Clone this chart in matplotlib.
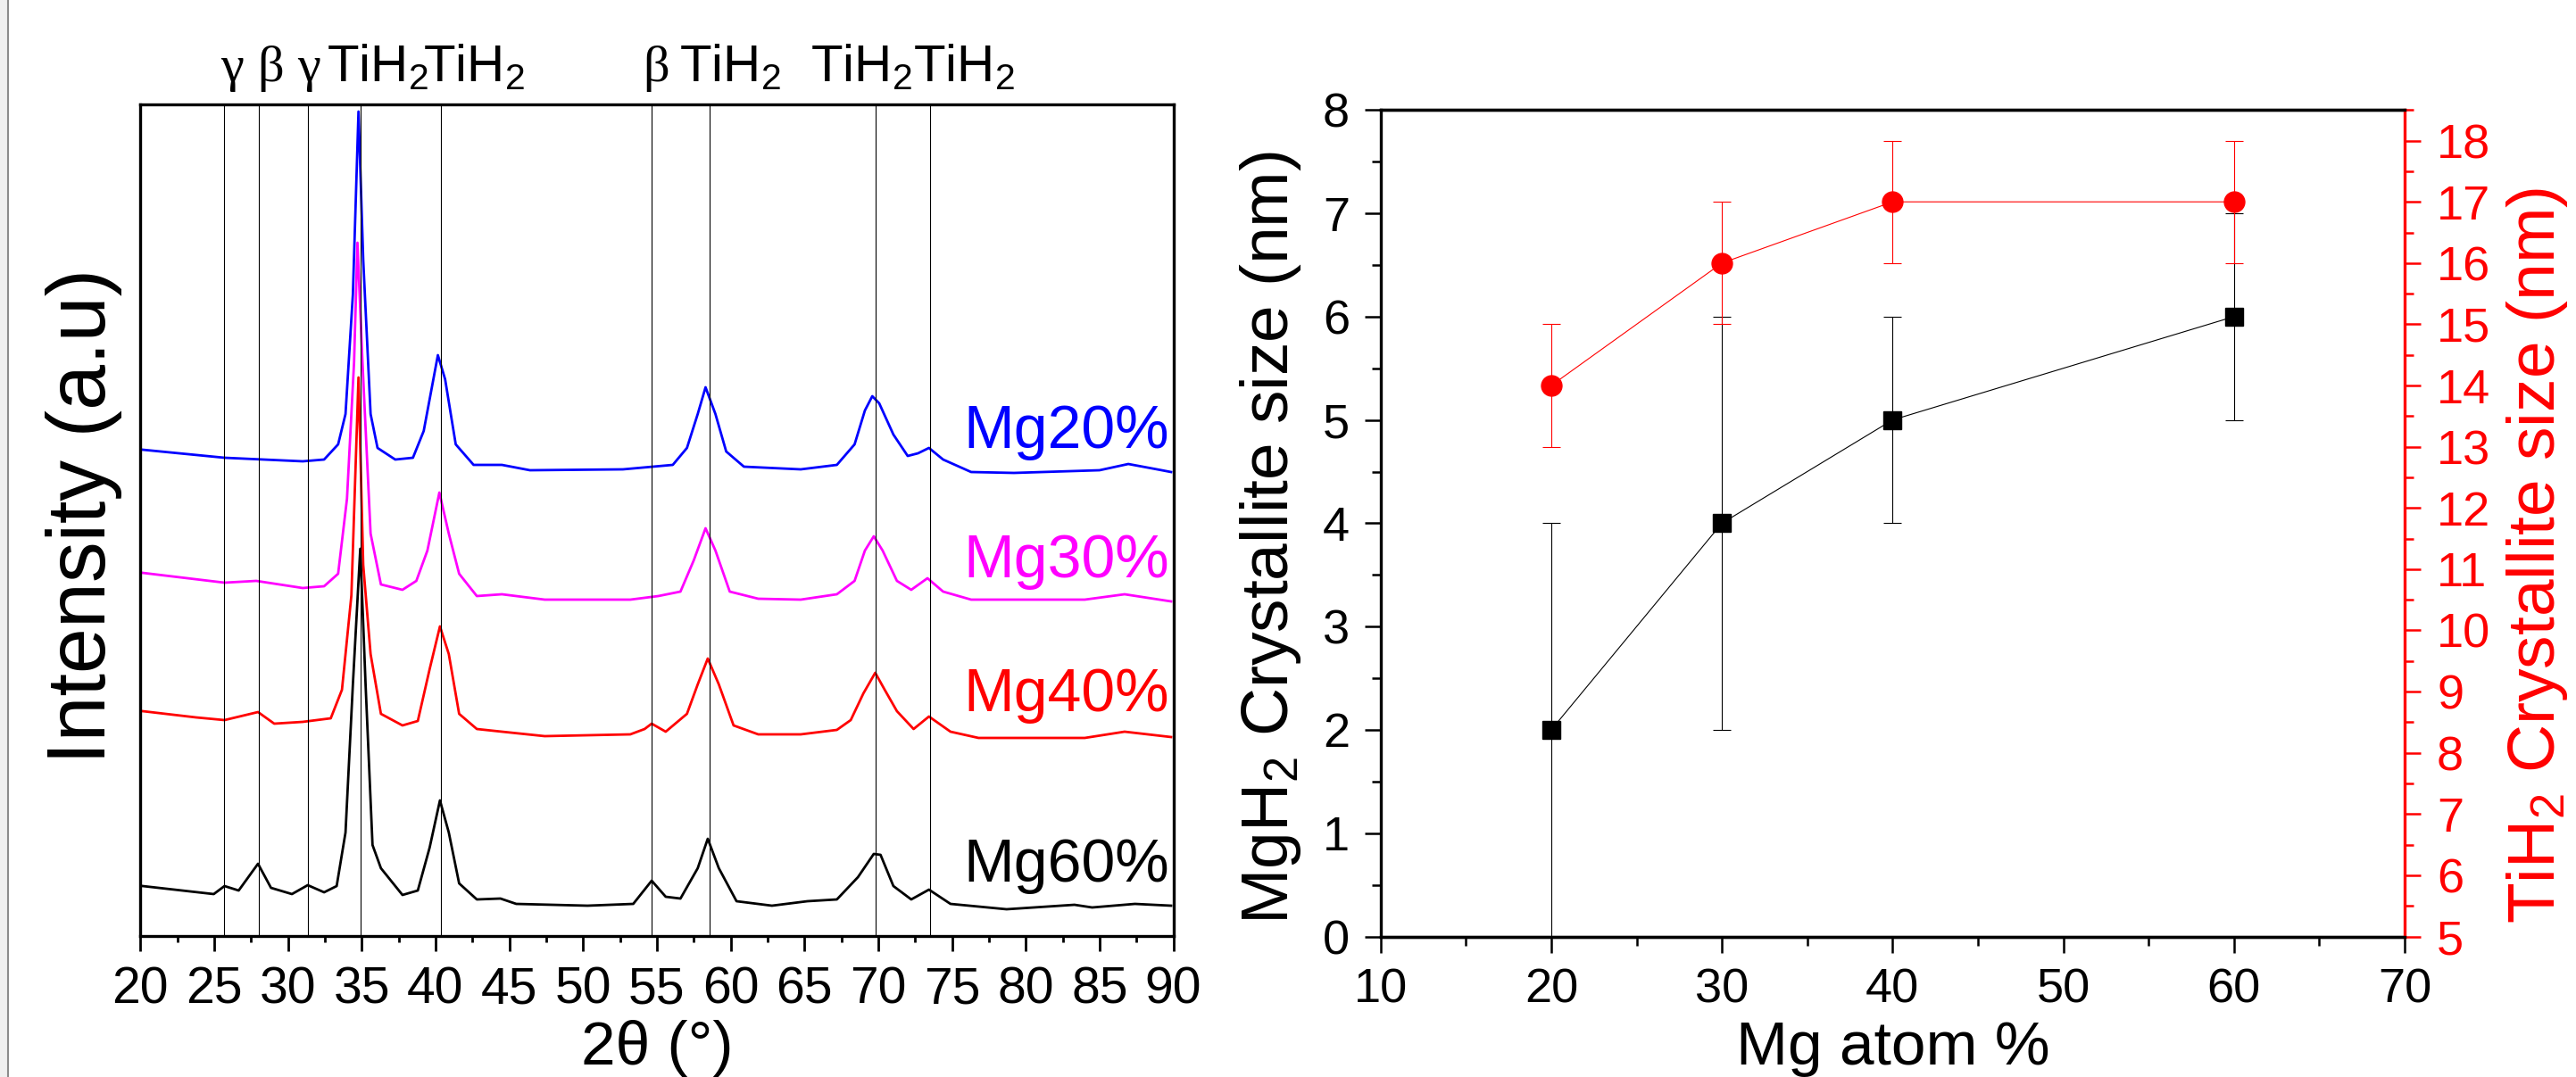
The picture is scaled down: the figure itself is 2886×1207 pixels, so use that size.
import numpy as np
import matplotlib
matplotlib.use("Agg")
import matplotlib.pyplot as plt
from matplotlib.ticker import MultipleLocator
from matplotlib.patches import Rectangle
from matplotlib.lines import Line2D

plt.rcParams['font.family'] = ['Liberation Sans', 'DejaVu Sans']
plt.rcParams['mathtext.fontset'] = 'custom'
plt.rcParams['mathtext.rm'] = 'Liberation Sans'
plt.rcParams['mathtext.it'] = 'Liberation Sans:italic'
plt.rcParams['mathtext.default'] = 'regular'

# ---- XRD traces (2theta in deg, intensity in a.u. with offsets) ----
tt_20 = [20.15, 25.7, 31.0, 32.45, 33.4, 33.9, 34.4, 34.78, 35.1, 35.6, 36.07, 37.27, 38.47,
         39.2, 40.16, 40.65, 41.37, 42.58, 44.5, 46.4, 52.7, 56.08, 57.04, 57.77, 58.3, 58.97,
         59.7, 60.9, 64.75, 67.2, 68.4, 69.1, 69.6, 70.07, 71.03, 72.0, 72.7, 73.44, 74.4,
         76.3, 79.2, 85.0, 86.95, 88.9, 89.85]
i_20 = [545, 536, 532, 534, 551, 585, 719, 924, 758, 585, 547, 534, 536,
        566, 651, 624, 551, 528, 528, 522, 523, 528, 547, 585, 615, 585,
        543, 526, 523, 528, 551, 589, 605, 597, 562, 538, 541, 547, 534,
        520, 519, 522, 529, 523, 520]

tt_30 = [20.15, 25.7, 27.85, 31.0, 32.45, 33.4, 34.0, 34.48, 34.71, 35.05, 35.6, 36.3, 37.76,
         38.7, 39.45, 40.26, 40.9, 41.6, 42.8, 44.5, 47.4, 53.2, 55.1, 56.6, 57.5, 58.3,
         58.97, 59.94, 61.87, 64.75, 67.2, 68.4, 69.1, 69.7, 70.3, 71.27, 72.24, 73.34, 74.4,
         76.3, 84.0, 86.7, 89.85]
i_30 = [407, 396, 398, 390, 392, 406, 490, 643, 777, 643, 451, 394, 388,
        398, 432, 497, 451, 406, 381, 383, 377, 377, 381, 386, 421, 457,
        432, 386, 378, 377, 383, 398, 432, 448, 432, 398, 388, 401, 386,
        377, 377, 383, 375]

tt_40 = [20.15, 23.77, 25.7, 27.97, 29.07, 31.0, 32.9, 33.66, 34.3, 34.78, 35.1, 35.6, 36.3,
         37.76, 38.8, 39.6, 40.3, 40.9, 41.6, 42.8, 44.5, 47.4, 53.2, 54.17, 54.65, 55.6,
         57.04, 57.77, 58.45, 59.2, 60.2, 61.87, 64.75, 67.2, 68.14, 69.0, 69.8, 70.44, 71.27,
         72.4, 73.44, 74.9, 76.8, 84.0, 86.7, 89.85]
i_40 = [252, 245, 242, 251, 238, 240, 244, 276, 382, 626, 416, 316, 249,
        236, 241, 299, 347, 316, 249, 232, 229, 224, 226, 232, 238, 229,
        249, 282, 311, 282, 236, 226, 226, 231, 242, 272, 295, 276, 252,
        232, 246, 229, 222, 222, 229, 223]

tt_60 = [20.15, 24.97, 25.7, 26.66, 27.97, 28.85, 30.27, 31.34, 32.45, 33.3, 33.9, 34.4, 34.9,
         35.26, 35.73, 36.3, 37.76, 38.8, 39.6, 40.3, 40.9, 41.6, 42.8, 44.4, 45.47, 50.3,
         53.4, 54.65, 55.6, 56.6, 57.77, 58.45, 59.2, 60.4, 62.8, 65.2, 67.2, 68.63, 69.7,
         70.16, 71.03, 72.24, 73.44, 74.9, 78.7, 83.3, 84.5, 87.4, 89.85]
i_60 = [56, 47, 56, 51, 81, 54, 47, 57, 49, 56, 116, 282, 434,
        282, 102, 76, 46, 51, 99, 152, 116, 59, 41, 42, 36, 34,
        36, 62, 44, 42, 76, 109, 76, 39, 34, 39, 41, 66, 92,
        91, 56, 41, 52, 36, 30, 35, 32, 36, 34]

samples = ['Mg20%', 'Mg30%', 'Mg40%', 'Mg60%']
sample_colors = ['#0000ff', '#ff00ff', '#ff0000', 'black']
sample_label_y = [547, 402, 252, 61]

peak_pos = [25.64, 28.02, 31.36, 34.9, 40.37, 54.66, 58.55, 69.83, 73.52]
peak_names = ['γ', 'β', 'γ', 'TiH$_2$', 'TiH$_2$', 'β', 'TiH$_2$', 'TiH$_2$', 'TiH$_2$']
peak_label_x = [26.2, 28.8, 31.4, 36.1, 42.6, 54.95, 59.94, 68.86, 75.82]

# ---- crystallite sizes ----
mg_atom = [20, 30, 40, 60]
mgh2_size = [2, 4, 5, 6]
mgh2_err = [2, 2, 1, 1]
tih2_size = [14, 16, 17, 17]
tih2_err = [1, 1, 1, 1]

W, H = 2886, 1207
fig = plt.figure(figsize=(W / 100, H / 100), dpi=100)

# grey frame strip at the left edge
fig.patches.append(Rectangle((0, 0), 8 / W, 1, transform=fig.transFigure,
                             facecolor='#f0f0f0', edgecolor='none'))
fig.lines.append(Line2D([8.5 / W, 8.5 / W], [0, 1], transform=fig.transFigure,
                        color='#8c8c8c', lw=1.5))

# ---------------- left: XRD ----------------
ax1 = fig.add_axes([157.3 / W, (H - 1049) / H, (1314.5 - 157.3) / W, (1049 - 116.7) / H])
traces = [(tt_20, i_20), (tt_30, i_30), (tt_40, i_40), (tt_60, i_60)]
for (tt, ii), c in zip(traces, sample_colors):
    ax1.plot(tt, ii, color=c, lw=2.0)
for p in peak_pos:
    ax1.axvline(p, color='black', lw=0.8)

ax1.set_xlim(20, 90)
ax1.set_ylim(0, 932.3)
ax1.set_yticks([])
ax1.xaxis.set_major_locator(MultipleLocator(5))
ax1.xaxis.set_minor_locator(MultipleLocator(2.5))
ax1.tick_params(axis='x', which='major', direction='out', length=12, width=2,
                labelsize=41, pad=12)
ax1.tick_params(axis='x', which='minor', direction='out', length=5, width=2)
for s in ax1.spines.values():
    s.set_linewidth(2.4)

for name, c, y in zip(samples, sample_colors, sample_label_y):
    ax1.text(89.73, y, name, color=c, fontsize=49, ha='right', va='baseline')

trans = ax1.get_xaxis_transform()
for name, x in zip(peak_names, peak_label_x):
    if name in ('γ', 'β'):
        ax1.text(x, 1.0279, name, transform=trans, fontsize=42, ha='center',
                 va='baseline', family=['Liberation Serif', 'DejaVu Serif'])
    else:
        ax1.text(x, 1.0279, name, transform=trans, fontsize=42, ha='center',
                 va='baseline')

ax1.set_xlabel('2θ (°)', fontsize=50, va='baseline')
ax1.xaxis.set_label_coords(0.5, -0.1545)
ax1.set_ylabel('Intensity (a.u)', fontsize=66, va='center')
ax1.yaxis.set_label_coords(-0.055, 0.505)

# ---------------- right: crystallite size ----------------
ax2 = fig.add_axes([1546.7 / W, (H - 1049.5) / H, (2694 - 1546.7) / W, (1049.5 - 123.3) / H])
ax2.errorbar(mg_atom, mgh2_size, yerr=mgh2_err, fmt='s-', color='black', ms=14.5,
             lw=0.8, elinewidth=0.8, capsize=7.5, capthick=0.8)
ax2.set_xlim(10, 70)
ax2.set_ylim(0, 8)
ax2.xaxis.set_major_locator(MultipleLocator(10))
ax2.xaxis.set_minor_locator(MultipleLocator(5))
ax2.yaxis.set_major_locator(MultipleLocator(1))
ax2.yaxis.set_minor_locator(MultipleLocator(0.5))
ax2.tick_params(axis='both', which='major', direction='out', length=13, width=1.8,
                labelsize=39, pad=12)
ax2.tick_params(axis='both', which='minor', direction='out', length=7, width=1.8)
for s in ax2.spines.values():
    s.set_linewidth(2.4)
ax2.spines['right'].set_visible(False)

ax3 = ax2.twinx()
ax3.errorbar(mg_atom, tih2_size, yerr=tih2_err, fmt='o-', color='red', ms=16.5,
             lw=0.8, elinewidth=0.8, capsize=7.5, capthick=0.8)
ax3.set_ylim(5, 18.5)
ax3.yaxis.set_major_locator(MultipleLocator(1))
ax3.yaxis.set_minor_locator(MultipleLocator(0.5))
ax3.tick_params(axis='y', which='major', direction='out', length=13, width=1.8,
                labelsize=39, pad=13, colors='red')
ax3.tick_params(axis='y', which='minor', direction='out', length=7, width=1.8, colors='red')
for s in ax3.spines.values():
    s.set_linewidth(2.4)
ax3.spines['left'].set_visible(False)
ax3.spines['right'].set_color('red')

ax2.set_xlabel('Mg atom %', fontsize=50, va='baseline')
ax2.xaxis.set_label_coords(0.5, -0.155)
ax2.set_ylabel('MgH$_2$ Crystallite size (nm)', fontsize=54, va='center')
ax2.yaxis.set_label_coords(-0.1078, 0.483)
ax3.set_ylabel('TiH$_2$ Crystallite size (nm)', fontsize=54, color='red',
               va='center', rotation=90)
ax3.yaxis.set_label_coords(1.129, 0.4616)

fig.savefig('out.png', dpi=100)
